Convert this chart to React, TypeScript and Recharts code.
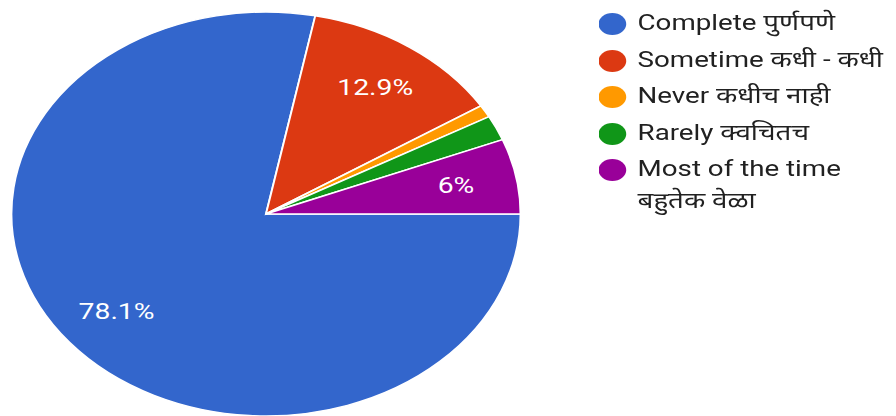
import React from "react";
import { PieChart, Pie, Cell, Legend } from "recharts";

const categories = [
  "Complete पुर्णपणे",
  "Sometime कधी - कधी",
  "Never कधीच नाही",
  "Rarely क्वचितच",
  "Most of the time बहुतेक वेळा",
];
const percentages = [78.1, 12.9, 1.0, 2.0, 6.0];
const sliceLabels = ["78.1%", "12.9%", "", "", "6%"];
const colors = ["#3366CC", "#DC3912", "#FF9900", "#109618", "#990099"];

const data = categories.map((name, i) => ({
  name,
  value: percentages[i],
  label: sliceLabels[i],
  color: colors[i],
}));

const RAD = Math.PI / 180;
const SX = 1.26;
const W = 896 / SX;

const renderLabel = (props: any) => {
  const { cx, cy, midAngle, outerRadius, index } = props;
  const text = data[index].label;
  if (!text) return null;
  const r = outerRadius * 0.76;
  const x = cx + r * Math.cos(-midAngle * RAD);
  const y = cy + r * Math.sin(-midAngle * RAD);
  return (
    <text
      x={x}
      y={y}
      fill="#ffffff"
      textAnchor="middle"
      dominantBaseline="central"
      fontSize={22.5}
      fontFamily="Roboto, 'Noto Sans', sans-serif"
    >
      {text}
    </text>
  );
};

const renderLegend = () => (
  <div style={{ fontFamily: "Roboto, 'Noto Sans', sans-serif" }}>
    {data.map((d) => (
      <div
        key={d.name}
        style={{ display: "flex", alignItems: "flex-start", marginBottom: 4.5 }}
      >
        <div
          style={{
            width: 22,
            height: 22,
            borderRadius: "50%",
            background: d.color,
            marginTop: 6,
            marginRight: 9.5,
            flex: "0 0 auto",
          }}
        />
        <div
          style={{
            width: 210,
            fontSize: 22,
            lineHeight: "32px",
            color: "#212121",
          }}
        >
          {d.name}
        </div>
      </div>
    ))}
  </div>
);

export default function App() {
  return (
    <div
      style={{
        position: "absolute",
        left: 0,
        top: 0,
        width: W,
        height: 416,
        transform: `scaleX(${SX})`,
        transformOrigin: "0 0",
        background: "#ffffff",
      }}
    >
      <PieChart
        width={W}
        height={416}
        margin={{ top: 0, right: 0, bottom: 0, left: 0 }}
      >
        <Pie
          data={data}
          dataKey="value"
          nameKey="name"
          cx={211.1}
          cy={214}
          outerRadius={202}
          startAngle={0}
          endAngle={-360}
          stroke="#ffffff"
          strokeWidth={1.5}
          label={renderLabel}
          labelLine={false}
          isAnimationActive={false}
        >
          {data.map((d) => (
            <Cell key={d.name} fill={d.color} />
          ))}
        </Pie>
        <Legend
          content={renderLegend}
          layout="vertical"
          align="right"
          verticalAlign="top"
          wrapperStyle={{ left: 474.5, top: 7, width: 245 }}
        />
      </PieChart>
    </div>
  );
}
